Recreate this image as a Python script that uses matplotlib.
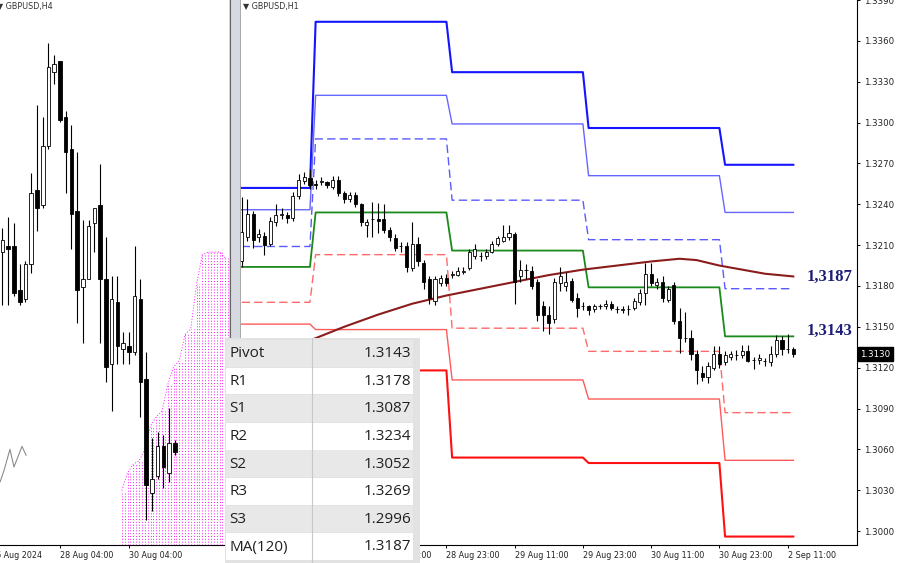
import numpy as np
import matplotlib.pyplot as plt
from matplotlib.patches import Rectangle

plt.rcParams['font.family'] = 'DejaVu Sans'

### H1 panel (right) : bar index, 0 = 28 Aug 23:00 ###
h1_bar = np.arange(-36, 62)
h1_open = [1.3198, 1.3216, 1.3233, 1.3216, 1.3217, 1.3211, 1.3227, 1.3232, 1.3232, 1.3230, 1.3246, 1.3257,
           1.3259, 1.3255, 1.3256, 1.3256, 1.3253, 1.3258, 1.3248, 1.3244, 1.3247, 1.3240, 1.3225, 1.3229,
           1.3229, 1.3229, 1.3221, 1.3215, 1.3209, 1.3209, 1.3193, 1.3211, 1.3197, 1.3185, 1.3169, 1.3182,
           1.3186, 1.3188, 1.3188, 1.3190, 1.3193, 1.3202, 1.3202, 1.3202, 1.3205, 1.3211, 1.3213, 1.3216,
           1.3218, 1.3187, 1.3192, 1.3191, 1.3183, 1.3165, 1.3159, 1.3156, 1.3182, 1.3180, 1.3184, 1.3171,
           1.3165, 1.3165, 1.3163, 1.3165, 1.3165, 1.3167, 1.3163, 1.3162, 1.3163, 1.3164, 1.3168, 1.3175,
           1.3189, 1.3181, 1.3183, 1.3170, 1.3181, 1.3154, 1.3142, 1.3142, 1.3130, 1.3116, 1.3113, 1.3120,
           1.3130, 1.3124, 1.3128, 1.3129, 1.3129, 1.3132, 1.3126, 1.3126, 1.3125, 1.3124, 1.3130, 1.3140,
           1.3134, 1.3134]
h1_close = [1.3220, 1.3233, 1.3214, 1.3218, 1.3210, 1.3228, 1.3232, 1.3233, 1.3230, 1.3246, 1.3258, 1.3260,
            1.3254, 1.3254, 1.3257, 1.3254, 1.3258, 1.3248, 1.3244, 1.3247, 1.3240, 1.3227, 1.3227, 1.3229,
            1.3228, 1.3221, 1.3216, 1.3208, 1.3209, 1.3194, 1.3211, 1.3198, 1.3183, 1.3171, 1.3185, 1.3186,
            1.3182, 1.3189, 1.3191, 1.3191, 1.3205, 1.3207, 1.3202, 1.3205, 1.3211, 1.3215, 1.3216, 1.3219,
            1.3183, 1.3192, 1.3192, 1.3180, 1.3159, 1.3159, 1.3153, 1.3183, 1.3187, 1.3183, 1.3170, 1.3164,
            1.3165, 1.3162, 1.3165, 1.3165, 1.3167, 1.3164, 1.3163, 1.3163, 1.3163, 1.3169, 1.3175, 1.3189,
            1.3182, 1.3183, 1.3171, 1.3178, 1.3154, 1.3142, 1.3142, 1.3130, 1.3118, 1.3113, 1.3121, 1.3130,
            1.3123, 1.3129, 1.3130, 1.3129, 1.3132, 1.3125, 1.3126, 1.3127, 1.3125, 1.3130, 1.3140, 1.3134,
            1.3134, 1.3130]
h1_high = [1.3245, 1.3244, 1.3235, 1.3222, 1.3220, 1.3231, 1.3240, 1.3237, 1.3234, 1.3249, 1.3262, 1.3264,
           1.3266, 1.3258, 1.3260, 1.3257, 1.3261, 1.3261, 1.3250, 1.3249, 1.3249, 1.3241, 1.3229, 1.3242,
           1.3241, 1.3240, 1.3223, 1.3218, 1.3212, 1.3212, 1.3227, 1.3216, 1.3199, 1.3187, 1.3187, 1.3188,
           1.3189, 1.3191, 1.3194, 1.3194, 1.3207, 1.3211, 1.3205, 1.3207, 1.3213, 1.3217, 1.3225, 1.3225,
           1.3220, 1.3199, 1.3196, 1.3195, 1.3185, 1.3169, 1.3165, 1.3186, 1.3194, 1.3190, 1.3186, 1.3175,
           1.3168, 1.3166, 1.3167, 1.3167, 1.3170, 1.3169, 1.3165, 1.3165, 1.3166, 1.3171, 1.3178, 1.3197,
           1.3197, 1.3186, 1.3187, 1.3180, 1.3183, 1.3164, 1.3161, 1.3148, 1.3133, 1.3121, 1.3124, 1.3136,
           1.3136, 1.3132, 1.3132, 1.3133, 1.3137, 1.3137, 1.3128, 1.3130, 1.3127, 1.3136, 1.3144, 1.3143,
           1.3145, 1.3135]
h1_low = [1.3194, 1.3213, 1.3208, 1.3212, 1.3203, 1.3209, 1.3224, 1.3229, 1.3226, 1.3228, 1.3244, 1.3255,
          1.3251, 1.3251, 1.3254, 1.3252, 1.3251, 1.3246, 1.3241, 1.3242, 1.3238, 1.3224, 1.3216, 1.3216,
          1.3219, 1.3219, 1.3213, 1.3206, 1.3205, 1.3190, 1.3191, 1.3195, 1.3178, 1.3167, 1.3166, 1.3180,
          1.3180, 1.3186, 1.3187, 1.3189, 1.3192, 1.3200, 1.3198, 1.3200, 1.3204, 1.3209, 1.3212, 1.3214,
          1.3167, 1.3183, 1.3185, 1.3178, 1.3154, 1.3147, 1.3145, 1.3153, 1.3176, 1.3176, 1.3168, 1.3157,
          1.3162, 1.3159, 1.3161, 1.3163, 1.3163, 1.3162, 1.3160, 1.3160, 1.3159, 1.3162, 1.3166, 1.3166,
          1.3180, 1.3178, 1.3168, 1.3168, 1.3152, 1.3131, 1.3139, 1.3126, 1.3108, 1.3110, 1.3109, 1.3118,
          1.3120, 1.3122, 1.3126, 1.3126, 1.3127, 1.3124, 1.3119, 1.3123, 1.3121, 1.3121, 1.3128, 1.3129,
          1.3131, 1.3128]

# daily pivot levels: 27 Aug (part), 28 Aug, 29 Aug, 30 Aug, 2 Sep (part)
day_bars = [13, 24, 24, 24, 13]
R3 = [1.3252, 1.3374, 1.3337, 1.3296, 1.3269]
R2 = [1.3236, 1.3320, 1.3299, 1.3261, 1.3234]
R1 = [1.3209, 1.3288, 1.3243, 1.3214, 1.3178]
P = [1.3194, 1.3234, 1.3206, 1.3179, 1.3143]
S1 = [1.3168, 1.3203, 1.3149, 1.3132, 1.3087]
S2 = [1.3152, 1.3148, 1.3111, 1.3097, 1.3052]
S3 = [1.3127, 1.3118, 1.3054, 1.3050, 1.2996]

ma_bar = [-36, -30, -24, -18, -12, -6, 0, 6, 12, 18, 24, 30, 36, 41, 44, 48, 52, 56, 61]
ma_price = [1.3118, 1.3130, 1.3140, 1.3150, 1.3159, 1.3167, 1.3173, 1.3178, 1.3183, 1.3188,
            1.3192, 1.3195, 1.3198, 1.3200, 1.3199, 1.3195, 1.3192, 1.3189, 1.3187]

h1_tick_bar = [-12, 0, 12, 24, 36, 48, 60]
h1_tick_lab = ['28 Aug 11:00', '28 Aug 23:00', '29 Aug 11:00', '29 Aug 23:00',
               '30 Aug 11:00', '30 Aug 23:00', '2 Sep 11:00']
price_ticks = np.arange(1.3000, 1.3391, 0.003)
last_price = 1.3130

### H4 panel (left) : bar index, 0 = 28 Aug 04:00 ###
h4_bar = np.arange(-10, 21)
h4_open = [1.3195, 1.3197, 1.3197, 1.3182, 1.3179, 1.3191, 1.3216, 1.3211, 1.3231, 1.3256, 1.3260,
           1.3241, 1.3230, 1.3209, 1.3183, 1.3186, 1.3205, 1.3211, 1.3186, 1.3157, 1.3178, 1.3162,
           1.3163, 1.3161, 1.3179, 1.3152, 1.3113, 1.3119, 1.3129, 1.3120, 1.3130]
h4_close = [1.3199, 1.3196, 1.3181, 1.3178, 1.3191, 1.3215, 1.3210, 1.3231, 1.3258, 1.3259, 1.3240,
            1.3229, 1.3208, 1.3182, 1.3186, 1.3204, 1.3210, 1.3186, 1.3156, 1.3179, 1.3163, 1.3164,
            1.3161, 1.3180, 1.3151, 1.3116, 1.3118, 1.3129, 1.3122, 1.3130, 1.3127]
h4_high = [1.3203, 1.3207, 1.3205, 1.3191, 1.3192, 1.3222, 1.3245, 1.3241, 1.3266, 1.3262, 1.3260,
           1.3243, 1.3238, 1.3229, 1.3206, 1.3206, 1.3210, 1.3225, 1.3200, 1.3187, 1.3187, 1.3168,
           1.3168, 1.3197, 1.3186, 1.3161, 1.3132, 1.3134, 1.3133, 1.3142, 1.3131]
h4_low = [1.3177, 1.3177, 1.3180, 1.3177, 1.3178, 1.3188, 1.3202, 1.3210, 1.3230, 1.3252, 1.3239,
          1.3215, 1.3196, 1.3171, 1.3164, 1.3186, 1.3195, 1.3164, 1.3151, 1.3141, 1.3157, 1.3157,
          1.3157, 1.3160, 1.3139, 1.3104, 1.3107, 1.3118, 1.3115, 1.3117, 1.3126]

cloud_bar = np.arange(11, 30)
cloud_top = [1.3114, 1.3120, 1.3123, 1.3124, 1.3128, 1.3136, 1.3139, 1.3141, 1.3150, 1.3156,
             1.3158, 1.3167, 1.3169, 1.3184, 1.3194, 1.3195, 1.3195, 1.3195, 1.3193]
lag_bar = [-10.4, -9.7, -8.7, -8.0, -6.6, -5.9]
lag_price = [1.3117, 1.3121, 1.3128, 1.3122, 1.3129, 1.3126]
h4_tick_bar = [-12, 0, 12]
h4_tick_lab = ['26 Aug 2024', '28 Aug 04:00', '30 Aug 04:00']

table_names = ['Pivot', 'R1', 'S1', 'R2', 'S2', 'R3', 'S3', 'MA(120)']
table_values = [P[-1], R1[-1], S1[-1], R2[-1], S2[-1], R3[-1], S3[-1], ma_price[-1]]

W, H = 900, 563
def box(x0, y0, x1, y1):
    return [x0 / W, 1 - y1 / H, (x1 - x0) / W, (y1 - y0) / H]

def candles(ax, x, o, c, h, l, w):
    o, c, h, l = map(np.asarray, (o, c, h, l))
    ax.vlines(x, l, h, color='black', lw=0.8, zorder=3)
    up = c >= o
    ax.bar(x, np.abs(c - o), w, bottom=np.minimum(o, c),
           color=np.where(up, 'white', 'black'), edgecolor='black', linewidth=0.6, zorder=4)

fig = plt.figure(figsize=(9, 5.63), dpi=100)

# ---- left H4 chart ----
axl = fig.add_axes(box(0, 0, 229, 545))
axl.set_xlim(-10.43, 29.4)
axl.set_ylim(1.30955, 1.32806)
for s in ['top', 'left', 'right']:
    axl.spines[s].set_visible(False)
axl.spines['bottom'].set_linewidth(0.8)
axl.set_yticks([])
bot = axl.get_ylim()[0]
for off in (-0.25, 0.25):
    vl = axl.vlines(cloud_bar + off, bot, cloud_top, colors='#ff00ff', lw=0.6, zorder=1)
    vl.set_linestyle((0, (1.2, 2.2)))
axl.plot(cloud_bar - 0.25, cloud_top, color='#ff00ff', lw=0.6, ls=(0, (1.2, 2.2)), zorder=1)
axl.plot(lag_bar, lag_price, color='#8c8c8c', lw=0.8)
candles(axl, h4_bar, h4_open, h4_close, h4_high, h4_low, 0.62)
axl.set_xticks(h4_tick_bar[1:])
axl.set_xticklabels(h4_tick_lab[1:], ha='left', fontsize=5.8, color='#222222')
axl.annotate(h4_tick_lab[0], xy=(h4_tick_bar[0], 0), xycoords=('data', 'axes fraction'),
             xytext=(0, -4.2), textcoords='offset points', ha='left', va='top',
             fontsize=5.8, color='#222222', annotation_clip=False)
axl.tick_params(axis='x', direction='out', length=2.5, pad=1.5, width=0.7)

# ---- right H1 chart ----
ax = fig.add_axes(box(240, 0, 857, 545))
ax.set_xlim(-36.3, 72.2)
ax.set_ylim(1.29898, 1.33882)
ax.spines['top'].set_visible(False)
ax.spines['left'].set_visible(False)
ax.spines['right'].set_linewidth(0.8)
ax.spines['bottom'].set_linewidth(0.8)

styles = [(R3, '#1414ff', 1.5, '-'), (R2, '#6666ff', 1.0, '-'), (R1, '#5a5aff', 1.0, '--'),
          (P, '#1a8a1a', 1.3, '-'), (S1, '#ff6a6a', 1.0, '--'), (S2, '#ff5a5a', 1.0, '-'),
          (S3, '#ff1010', 1.5, '-')]
for lev, col, lw, ls in styles:
    ln, = ax.plot(h1_bar, np.repeat(lev, day_bars), color=col, lw=lw, ls=ls, zorder=2)
    if ls == '--':
        ln.set_dashes((6, 3))
ax.plot(ma_bar, ma_price, color='#8b1c1c', lw=1.5, zorder=2)
candles(ax, h1_bar, h1_open, h1_close, h1_high, h1_low, 0.55)

for val, dy in ((ma_price[-1], 0), (P[-1], 4)):
    ax.annotate(f'{val:.4f}'.replace('.', ','), xy=(63.4, val), xytext=(0, dy),
                textcoords='offset points', ha='left', va='center', fontsize=12,
                fontweight='bold', family='Liberation Serif', color='#1e1e78')

ax.yaxis.tick_right()
ax.set_yticks(price_ticks)
ax.set_yticklabels([f'{v:.4f}' for v in price_ticks], fontsize=6.2, color='#222222')
ax.set_xticks(h1_tick_bar)
ax.set_xticklabels(h1_tick_lab, ha='left', fontsize=5.8, color='#222222')
ax.tick_params(direction='out', length=2.5, pad=1.5, width=0.7)
ax.tick_params(axis='y', pad=2.5)
ax.annotate(f'{last_price:.4f}', xy=(1, last_price), xycoords=('axes fraction', 'data'),
            xytext=(2.5, 0), textcoords='offset points', ha='left', va='center',
            fontsize=6.2, color='white',
            bbox=dict(boxstyle='square,pad=0.25', fc='black', ec='black'))

# titles
fig.text(-3 / W, 1 - 6 / H, '\u25bc GBPUSD,H4', fontsize=5.8, color='#333333', va='center')
fig.text(243 / W, 1 - 6 / H, '\u25bc GBPUSD,H1', fontsize=5.8, color='#333333', va='center')

# separator between the two windows
fig.add_artist(Rectangle((229 / W, 0), 11 / W, 1, transform=fig.transFigure,
                         fc='#d6dae0', ec='none', zorder=5))
fig.add_artist(plt.Line2D([229.5 / W] * 2, [0, 1], transform=fig.transFigure,
                          color='#666666', lw=0.8, zorder=6))
fig.add_artist(plt.Line2D([239.5 / W] * 2, [0, 1], transform=fig.transFigure,
                          color='#9a9a9a', lw=0.6, zorder=6))

# ---- levels table ----
tax = fig.add_axes(box(225, 338, 420, 563), zorder=10)
tax.set_xlim(225, 420)
tax.set_ylim(563, 338)
tax.axis('off')
tax.add_patch(Rectangle((225, 338), 195, 225, fc='#e2e2e2', ec='none'))
row_h = 27.6
for k, (name, val) in enumerate(zip(table_names, table_values)):
    y0 = 340 + k * row_h
    fc = '#e8e8e8' if k % 2 == 0 else 'white'
    tax.add_patch(Rectangle((226, y0), 187, row_h - 0.8, fc=fc, ec='none'))
    tax.text(229, y0 + row_h / 2, name, fontsize=11, family='Open Sans',
             color='#1f1f1f', va='center', ha='left')
    tax.text(411, y0 + row_h / 2, f'{val:.4f}', fontsize=11, family='Open Sans',
             color='#1f1f1f', va='center', ha='right')
tax.plot([312, 312], [338, 563], color='#c8c8c8', lw=0.8)

fig.savefig('out.png', dpi=100, facecolor='white')
